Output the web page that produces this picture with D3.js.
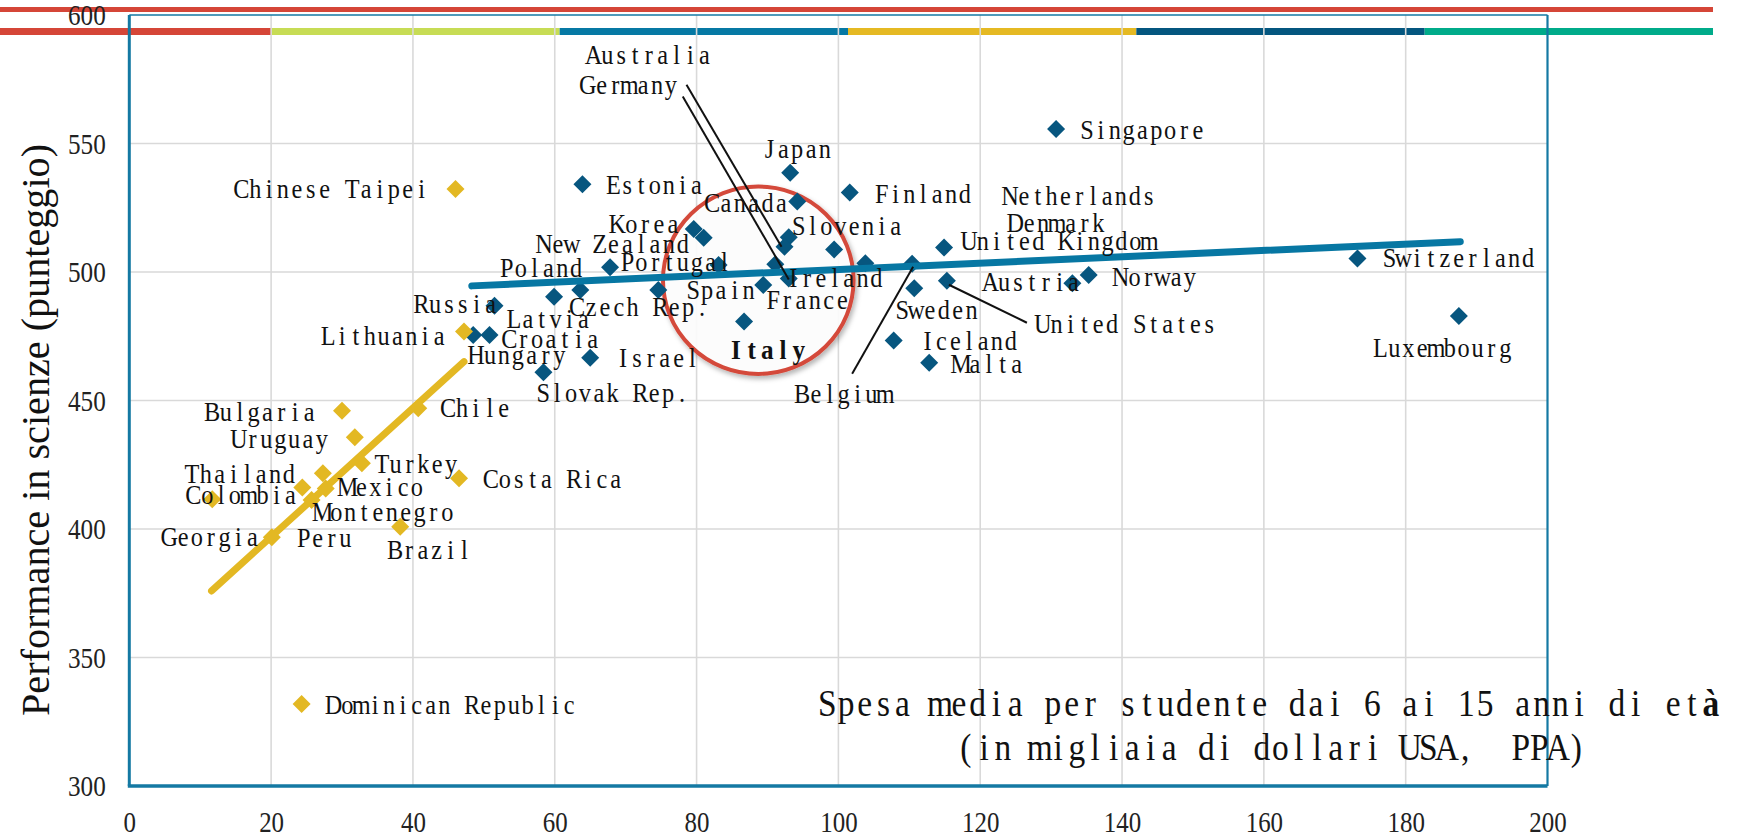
<!DOCTYPE html>
<html>
<head>
<meta charset="utf-8">
<script src="https://cdn.jsdelivr.net/npm/d3@7"></script>
<style>
  body { margin: 0; background: #fff; }
  svg { display: block; }
</style>
</head>
<body>
<div id="chart"></div>
<script>
// dati: spesa media (migliaia USD PPA) e punteggio in scienze
const paesi = ["Estonia", "Korea", "New Zealand", "Japan", "Canada", "Finland", "Slovenia", "Australia",
  "Ireland", "Germany", "Netherlands", "Denmark", "Portugal", "Poland", "Spain", "France", "Czech Rep.",
  "Latvia", "Russia", "Hungary", "Croatia", "Israel", "Slovak Rep.", "Italy", "Belgium", "Sweden",
  "United Kingdom", "United States", "Austria", "Norway", "Iceland", "Malta", "Singapore", "Switzerland",
  "Luxembourg", "Chinese Taipei", "Lithuania", "Bulgaria", "Chile", "Uruguay", "Turkey", "Costa Rica",
  "Thailand", "Mexico", "Colombia", "Montenegro", "Georgia", "Peru", "Brazil", "Dominican Republic"];
const spesa = [63.9, 79.6, 81.0, 93.2, 94.2, 101.6, 93.0, 92.4,
  91.1, 93.0, 99.4, 103.8, 83.1, 67.8, 74.6, 89.4, 63.6,
  59.9, 51.5, 48.5, 50.8, 65.0, 58.4, 86.7, 110.4, 110.7,
  114.9, 115.3, 133.0, 135.3, 107.8, 112.8, 130.7, 173.2,
  187.5, 46.0, 47.2, 30.0, 40.75, 31.8, 32.8, 46.5,
  27.3, 27.7, 24.4, 25.7, 11.7, 20.1, 38.2, 24.3];
const punteggio = [534.1, 516.7, 513.3, 538.6, 527.4, 530.9, 513.5, 509.8,
  503.0, 497.5, 508.8, 503.4, 502.7, 501.8, 493.0, 494.9, 493.0,
  490.4, 486.9, 475.5, 475.5, 466.6, 461.0, 480.7, 503.2, 493.7,
  509.5, 496.6, 495.6, 498.8, 473.3, 464.7, 555.6, 505.3,
  482.9, 532.3, 476.8, 446.0, 447.0, 435.7, 425.6, 419.7,
  421.7, 415.8, 416.1, 411.3, 411.6, 396.8, 400.9, 331.9];
const gruppo = ["alto", "alto", "alto", "alto", "alto", "alto", "alto", "alto",
  "alto", "alto", "alto", "alto", "alto", "alto", "alto", "alto", "alto",
  "alto", "alto", "alto", "alto", "alto", "alto", "alto", "alto", "alto",
  "alto", "alto", "alto", "alto", "alto", "alto", "alto", "alto",
  "alto", "basso", "basso", "basso", "basso", "basso", "basso", "basso",
  "basso", "basso", "basso", "basso", "basso", "basso", "basso", "basso"];

// linee di tendenza (estremi)
const trendAltoX = [48.3, 187.7];
const trendAltoY = [494.6, 511.8];
const trendBassoX = [11.6, 47.2];
const trendBassoY = [375.9, 465.1];

const xTicks = [0, 20, 40, 60, 80, 100, 120, 140, 160, 180, 200];
const yTicks = [300, 350, 400, 450, 500, 550, 600];

// posizione delle etichette rispetto al punto: [dx, dy, ancoraggio]
const etichette = {
  "Estonia": [24, 1, "start"], "Korea": [-14, -5, "end"], "New Zealand": [-14, 6, "end"],
  "Japan": [7, -24, "middle"], "Canada": [-9, 1, "end"], "Finland": [25, 1, "start"],
  "Slovenia": [3, -11, "start"], "Australia": [-198, -192, "start"], "Ireland": [11, 14, "start"],
  "Germany": [-208, -193, "start"], "Netherlands": [169, -53, "start"], "Denmark": [143, -40, "start"],
  "Portugal": [-98, -3, "start"], "Poland": [-27, 1, "end"], "Spain": [28, 0, "start"],
  "France": [3, 15, "start"], "Czech Rep.": [-10, 17, "start"], "Latvia": [-47, 22, "start"],
  "Russia": [3, -2, "end"], "Hungary": [-4, 20, "start"], "Croatia": [13, 4, "start"],
  "Israel": [26, 0, "start"], "Slovak Rep.": [-7, 21, "start"], "Italy": [-16, 28, "start"],
  "Belgium": [-117, 130, "start"], "Sweden": [-19, 22, "start"], "United Kingdom": [18, -7, "start"],
  "United States": [89, 43, "start"], "Austria": [8, -1, "end"], "Norway": [25, 2, "start"],
  "Iceland": [27, 0, "start"], "Malta": [25, 1, "start"], "Singapore": [24, 1, "start"],
  "Switzerland": [25, 0, "start"], "Luxembourg": [-16, 32, "middle"], "Chinese Taipei": [-27, 0, "end"],
  "Lithuania": [-18, 4, "end"], "Bulgaria": [-26, 1, "end"], "Chile": [23, 0, "start"],
  "Uruguay": [-26, 2, "end"], "Turkey": [13, 1, "start"], "Costa Rica": [25, 1, "start"],
  "Thailand": [-27, 1, "end"], "Mexico": [15, -1, "start"], "Colombia": [-5, 7, "end"],
  "Montenegro": [4, 12, "start"], "Georgia": [-50, 38, "start"], "Peru": [25, 1, "start"],
  "Brazil": [-12, 23, "start"], "Dominican Republic": [25, 1, "start"]
};
// linee di richiamo: [inizio, fine] rispetto al punto
const richiami = {
  "Australia": [[-98, -162], [-3, 0]],
  "Germany": [[-106, -182], [0, 1]],
  "Belgium": [[-60, 110], [1, 3]],
  "United States": [[2, 4], [80, 42]]
};

const colori = { alto: "#07567f", basso: "#e3b823" };
const coloriTrend = { alto: "#0777a3", basso: "#e3b823" };
const fascia = ["#d54638", "#c7dc55", "#0679a4", "#e5b923", "#04567f", "#00ab8a"];
const font = "'Liberation Serif', 'Times New Roman', serif";

const width = 1740, height = 836;
const svg = d3.select("#chart").append("svg")
  .attr("width", width)
  .attr("height", height);

const x = d3.scaleLinear().domain([0, 200]).range([129.3, 1547.5]);
const y = d3.scaleLinear().domain([300, 600]).range([786, 15]);

// posizioni dei caratteri a passo fisso (come un font monospazio), divise per la compressione orizzontale
function celle(n, sinistra, passo, sx) {
  return d3.range(n).map(i => ((sinistra + (i + 0.5) * passo) / sx).toFixed(2)).join(" ");
}

// ombra del cerchio
const defs = svg.append("defs");
defs.append("filter").attr("id", "ombra")
  .attr("x", "-20%").attr("y", "-20%").attr("width", "140%").attr("height", "140%")
  .append("feDropShadow")
  .attr("dx", 2).attr("dy", 3).attr("stdDeviation", 2.5)
  .attr("flood-color", "#000").attr("flood-opacity", 0.3);

// barre decorative in alto
svg.append("rect").attr("x", 0).attr("y", 7).attr("width", 1713).attr("height", 5).attr("fill", "#d54638");
const band = d3.scaleBand().domain(fascia).range([-17, 1713]);
svg.selectAll(".fascia").data(fascia).enter().append("rect")
  .attr("class", "fascia")
  .attr("x", d => band(d))
  .attr("y", 28)
  .attr("width", band.bandwidth())
  .attr("height", 7)
  .attr("fill", d => d);

// griglia
svg.append("g").selectAll("line").data(xTicks.slice(1, -1)).enter().append("line")
  .attr("x1", d => x(d)).attr("x2", d => x(d))
  .attr("y1", y(600)).attr("y2", y(300))
  .attr("stroke", "#d9d9d9").attr("stroke-width", 1.6);
svg.append("g").selectAll("line").data(yTicks.slice(1, -1)).enter().append("line")
  .attr("x1", x(0)).attr("x2", x(200))
  .attr("y1", d => y(d)).attr("y2", d => y(d))
  .attr("stroke", "#d9d9d9").attr("stroke-width", 1.6);

// cornice
const cornice = "#1479a3";
svg.append("line").attr("x1", x(0)).attr("x2", x(200)).attr("y1", y(600)).attr("y2", y(600))
  .attr("stroke", cornice).attr("stroke-width", 1.5);
svg.append("line").attr("x1", x(200)).attr("x2", x(200)).attr("y1", y(600)).attr("y2", y(300))
  .attr("stroke", cornice).attr("stroke-width", 2.2);
svg.append("line").attr("x1", x(0)).attr("x2", x(0)).attr("y1", y(600)).attr("y2", y(300))
  .attr("stroke", cornice).attr("stroke-width", 3);
svg.append("line").attr("x1", x(0) - 1.5).attr("x2", x(200)).attr("y1", y(300)).attr("y2", y(300))
  .attr("stroke", cornice).attr("stroke-width", 3.3);

// cerchio attorno all'Italia
svg.append("ellipse")
  .attr("cx", x(88.7)).attr("cy", y(496.8))
  .attr("rx", 95.3).attr("ry", 93.7)
  .attr("fill", "#fff").attr("fill-opacity", 0.9)
  .attr("stroke", "#d44a3a").attr("stroke-width", 4)
  .attr("filter", "url(#ombra)");

// assi
const assey = svg.append("g")
  .attr("transform", `translate(${x(0)},0)`)
  .call(d3.axisLeft(y).tickValues(yTicks).tickSize(0).tickPadding(28));
assey.select(".domain").remove();
assey.selectAll("text")
  .attr("font-family", font)
  .attr("font-size", 30)
  .attr("fill", "#222")
  .attr("transform", "scale(0.84,1)");

const assex = svg.append("g")
  .attr("transform", `translate(0,${y(300)})`)
  .call(d3.axisBottom(x).tickValues(xTicks).tickSize(0).tickPadding(25));
assex.select(".domain").remove();
assex.selectAll("text")
  .attr("font-family", font)
  .attr("font-size", 29)
  .attr("fill", "#222")
  .attr("transform", "scale(0.86,1)");

// punti
const punti = paesi.map((p, i) => ({ paese: p, spesa: spesa[i], punteggio: punteggio[i], gruppo: gruppo[i] }));

svg.append("g").selectAll("path").data(punti).enter().append("path")
  .attr("d", d3.symbol(d3.symbolSquare, 162))
  .attr("transform", d => `translate(${x(d.spesa)},${y(d.punteggio)}) rotate(45)`)
  .attr("fill", d => colori[d.gruppo]);

// linee di tendenza
svg.append("line")
  .attr("x1", x(trendAltoX[0])).attr("y1", y(trendAltoY[0]))
  .attr("x2", x(trendAltoX[1])).attr("y2", y(trendAltoY[1]))
  .attr("stroke", coloriTrend.alto).attr("stroke-width", 7).attr("stroke-linecap", "round");
svg.append("line")
  .attr("x1", x(trendBassoX[0])).attr("y1", y(trendBassoY[0]))
  .attr("x2", x(trendBassoX[1])).attr("y2", y(trendBassoY[1]))
  .attr("stroke", coloriTrend.basso).attr("stroke-width", 7).attr("stroke-linecap", "round");

// linee di richiamo
Object.keys(richiami).forEach(p => {
  const d = punti.find(q => q.paese === p);
  const [a, b] = richiami[p];
  svg.append("line")
    .attr("x1", x(d.spesa) + a[0]).attr("y1", y(d.punteggio) + a[1])
    .attr("x2", x(d.spesa) + b[0]).attr("y2", y(d.punteggio) + b[1])
    .attr("stroke", "#111").attr("stroke-width", 2);
});

// etichette
svg.append("g").selectAll("text").data(punti).enter().append("text")
  .each(function(d) {
    const e = etichette[d.paese];
    const italia = d.paese === "Italy";
    const passo = italia ? 15.7 : 13.86;
    const sx = 0.9;
    const n = d.paese.length;
    const ax = x(d.spesa) + e[0];
    const sinistra = e[2] === "start" ? ax : e[2] === "end" ? ax - n * passo : ax - n * passo / 2;
    d3.select(this)
      .attr("transform", `scale(${sx},1)`)
      .attr("x", celle(n, sinistra, passo, sx))
      .attr("y", y(d.punteggio) + e[1] + 9)
      .attr("font-size", italia ? 28 : 27)
      .attr("font-weight", italia ? "bold" : "normal");
  })
  .attr("text-anchor", "middle")
  .attr("font-family", font)
  .attr("fill", "#111")
  .text(d => d.paese);

// titolo asse y
svg.append("text")
  .attr("transform", "translate(49,430) rotate(-90)")
  .attr("text-anchor", "middle")
  .attr("font-family", font)
  .attr("font-size", 40)
  .attr("fill", "#111")
  .attr("textLength", 572)
  .attr("lengthAdjust", "spacingAndGlyphs")
  .text("Performance in scienze (punteggio)");

// titolo asse x (due righe)
const riga1 = "Spesa media per studente dai 6 ai 15 anni di et";
const riga2 = "(in migliaia di dollari USA,  PPA)";
const sxT = 0.88;
const t1 = svg.append("text")
  .attr("transform", `scale(${sxT},1)`)
  .attr("y", 716)
  .attr("text-anchor", "middle")
  .attr("font-family", font)
  .attr("font-size", 38)
  .attr("fill", "#111");
t1.append("tspan")
  .attr("x", celle(riga1.length, 1269 - 24 * 18.8, 18.8, sxT))
  .text(riga1);
t1.append("tspan")
  .attr("x", celle(1, 1269 + 23 * 18.8, 18.8, sxT))
  .attr("font-weight", "bold")
  .text("à");
svg.append("text")
  .attr("transform", `scale(${sxT},1)`)
  .attr("x", celle(riga2.length, 1271 - 17 * 18.5, 18.5, sxT))
  .attr("y", 760)
  .attr("text-anchor", "middle")
  .attr("font-family", font)
  .attr("font-size", 38)
  .attr("fill", "#111")
  .style("white-space", "pre")
  .text(riga2);
</script>
</body>
</html>
